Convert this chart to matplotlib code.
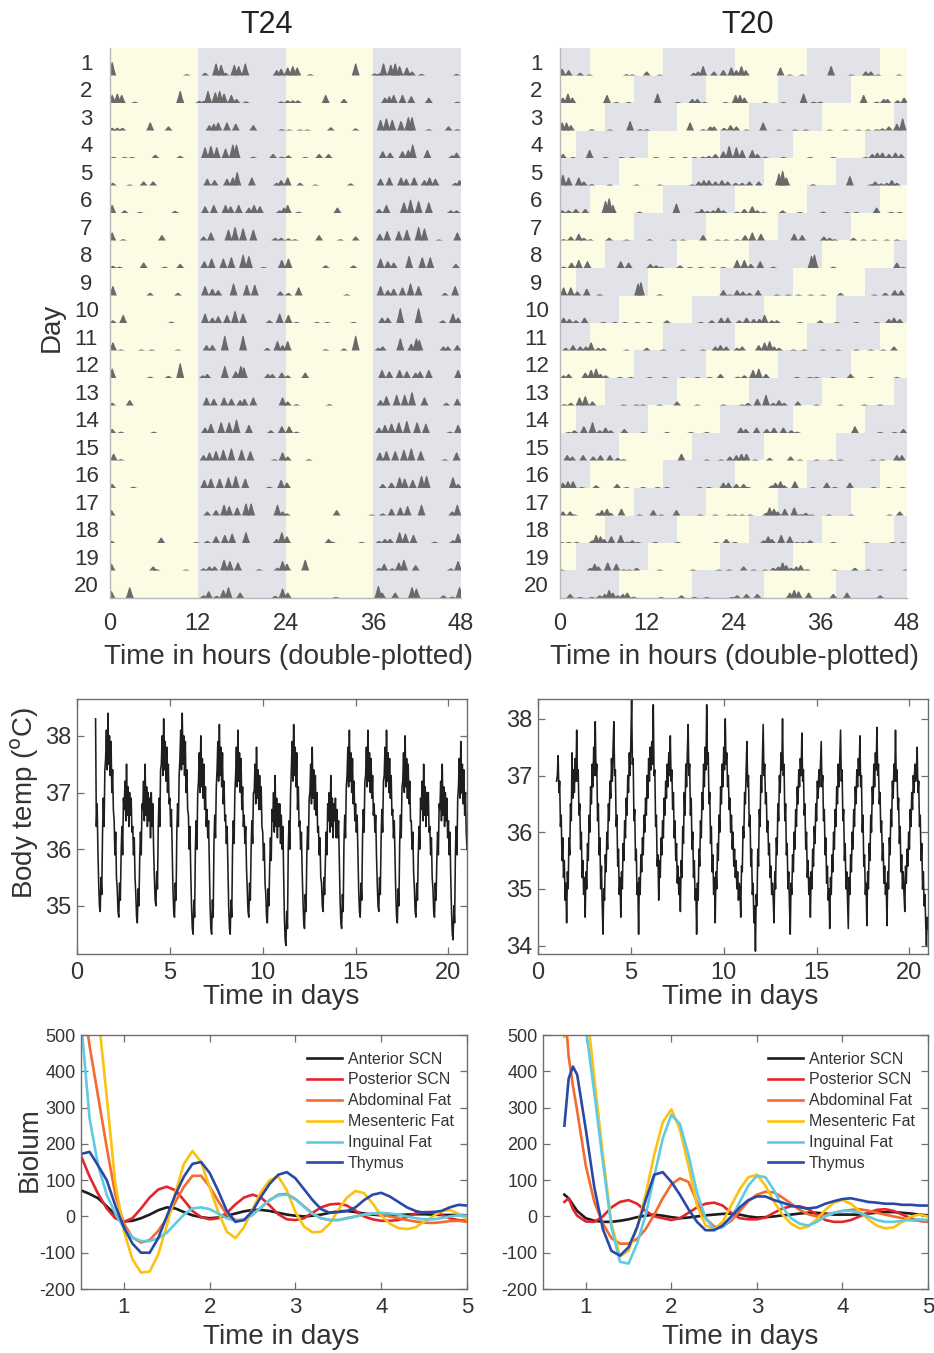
import numpy as np
import matplotlib
matplotlib.use('Agg')
import matplotlib.pyplot as plt

plt.rcParams['font.family'] = ['Liberation Sans', 'DejaVu Sans']
plt.rcParams['axes.unicode_minus'] = False

# ---------------- DATA ----------------
DAY_LABELS = [str(i) for i in range(1, 21)]
HOUR_TICKS = [0, 12, 24, 36, 48]

# light schedules: (period h, light duration h, first light onset h)
SCHED_T24 = (24.0, 12.0, 0.0)
SCHED_T20 = (20.0, 10.0, 4.2)

# activity bouts per day: (hour, height as fraction of row)
ACT_T24 = [
    [(0.3,.5),(10.5,.05),(13.0,.1),(14.5,.45),(15.2,.4),(15.8,.1),(17.0,.4),(17.6,.35),(18.5,.45),(22.8,.2),(23.4,.25)],
    [(0.3,.3),(1.0,.35),(1.6,.3),(3.4,.05),(9.6,.45),(12.2,.08),(12.8,.08),(13.4,.45),(14.4,.4),(15.0,.45),(15.6,.35),(16.6,.3),(17.3,.15),(18.6,.06),(23.4,.06)],
    [(0.3,.1),(1.0,.1),(1.7,.1),(5.5,.3),(8.0,.15),(13.6,.2),(14.2,.25),(14.8,.3),(16.0,.3),(17.2,.25),(19.6,.2),(23.5,.05)],
    [(0.5,.04),(2.0,.04),(3.0,.04),(6.2,.12),(9.6,.08),(13.0,.4),(13.8,.45),(14.6,.4),(15.8,.35),(16.8,.5),(17.3,.5),(19.6,.05),(22.3,.15),(23.5,.05)],
    [(0.4,.1),(2.7,.04),(4.6,.15),(5.9,.15),(13.3,.25),(14.3,.2),(16.0,.25),(16.8,.3),(17.4,.5),(19.4,.3),(22.8,.1),(23.4,.2)],
    [(0.3,.3),(2.0,.1),(4.1,.04),(8.9,.08),(13.0,.25),(14.2,.3),(15.8,.3),(16.5,.25),(17.6,.3),(19.0,.2),(19.7,.3),(20.5,.25),(23.2,.1),(23.8,.2)],
    [(0.3,.3),(1.8,.05),(7.1,.2),(12.8,.15),(13.8,.3),(16.2,.4),(17.1,.5),(18.2,.45),(19.6,.4),(22.6,.1),(23.4,.1)],
    [(0.4,.08),(1.3,.05),(4.6,.2),(7.5,.05),(9.6,.15),(12.9,.25),(13.9,.35),(15.5,.35),(16.6,.4),(18.2,.5),(19.0,.45),(21.0,.04),(23.5,.3)],
    [(0.4,.35),(5.5,.1),(9.3,.1),(13.0,.35),(14.0,.25),(14.8,.2),(16.9,.45),(18.7,.4),(19.8,.4),(23.3,.15)],
    [(0.4,.1),(1.8,.3),(8.4,.05),(13.0,.35),(14.0,.2),(14.8,.25),(16.0,.3),(17.1,.45),(18.2,.35),(21.8,.1),(23.2,.35)],
    [(0.4,.3),(1.5,.04),(4.3,.04),(5.7,.04),(9.3,.04),(13.2,.2),(14.0,.2),(15.7,.55),(18.2,.55),(21.5,.1),(22.9,.35),(23.6,.2)],
    [(0.3,.35),(5.5,.05),(8.0,.08),(9.6,.55),(12.7,.1),(13.3,.15),(15.7,.45),(17.2,.25),(17.9,.45),(18.3,.4),(21.6,.15),(22.2,.15),(23.5,.2)],
    [(0.3,.1),(2.7,.2),(13.2,.3),(14.2,.25),(15.6,.3),(16.6,.25),(17.8,.2),(18.4,.25),(19.6,.3),(23.6,.3)],
    [(0.3,.15),(1.5,.05),(6.0,.05),(13.0,.2),(13.8,.35),(15.2,.4),(16.3,.4),(17.3,.5),(19.0,.3),(22.0,.1),(23.5,.25)],
    [(0.5,.25),(1.5,.05),(12.8,.2),(13.6,.3),(14.5,.35),(15.5,.4),(16.6,.45),(18.0,.4),(19.2,.35),(22.5,.05),(23.6,.3)],
    [(0.3,.15),(3.2,.05),(12.9,.3),(13.8,.35),(15.0,.35),(16.2,.4),(17.2,.45),(18.5,.35),(21.8,.05),(23.4,.3)],
    [(0.2,.2),(13.3,.15),(14.5,.2),(15.6,.4),(16.3,.35),(17.4,.3),(18.6,.45),(19.3,.45),(22.9,.4),(23.6,.15)],
    [(0.2,.08),(7.0,.2),(11.8,.04),(13.3,.08),(14.5,.25),(15.7,.3),(16.7,.35),(18.6,.4),(22.8,.15),(23.5,.4)],
    [(0.2,.25),(5.9,.15),(6.4,.05),(10.4,.04),(12.8,.08),(13.6,.15),(14.3,.15),(15.6,.4),(16.4,.35),(17.5,.3),(20.4,.05),(22.9,.1),(23.6,.35)],
    [(0.2,.25),(2.7,.4),(12.8,.1),(13.5,.25),(14.6,.08),(15.5,.3),(16.2,.4),(17.8,.2),(22.6,.08),(23.6,.35)],
    [(0.3,.2),(6.9,.04),(12.7,.45),(13.2,.2),(15.0,.2),(17.3,.4),(17.9,.35),(21.6,.1),(22.8,.05),(23.8,.4)],
]

ACT_T20 = [
    [(0.3,.25),(1.2,.2),(2.8,.1),(4.1,.04),(9.2,.05),(10.0,.04),(12.0,.15),(13.8,.04),(18.5,.1),(19.1,.15),(19.8,.35),(21.3,.15),(22.6,.2),(23.7,.3)],
    [(0.4,.2),(1.1,.35),(1.7,.2),(6.5,.3),(7.8,.04),(9.5,.04),(13.5,.35),(16.3,.04),(18.3,.15),(19.0,.15),(20.0,.04),(22.9,.04)],
    [(0.3,.3),(0.9,.3),(1.5,.2),(4.4,.05),(6.9,.04),(9.7,.35),(11.1,.05),(12.0,.05),(18.0,.3),(19.8,.05),(20.8,.15),(21.3,.15),(22.7,.1),(23.6,.2)],
    [(0.4,.15),(1.8,.04),(4.1,.3),(6.3,.04),(8.5,.04),(10.0,.04),(13.3,.04),(15.5,.04),(17.3,.04),(18.6,.04),(19.8,.05),(20.6,.08),(21.5,.15),(22.6,.25),(23.4,.45)],
    [(0.4,.4),(1.2,.3),(2.6,.3),(3.3,.15),(4.4,.05),(6.9,.04),(10.6,.04),(13.8,.04),(18.3,.04),(19.2,.15),(19.9,.2),(20.6,.2),(21.5,.15),(22.4,.2),(23.2,.15)],
    [(0.3,.1),(1.2,.1),(2.2,.15),(3.5,.15),(6.3,.45),(6.8,.55),(7.3,.3),(11.0,.05),(16.1,.35),(19.0,.05),(19.6,.15),(20.4,.08),(21.2,.1),(21.9,.2),(22.6,.1)],
    [(0.5,.05),(1.5,.15),(2.6,.25),(3.3,.1),(4.2,.05),(6.8,.1),(9.2,.04),(12.4,.05),(15.7,.04),(17.0,.04),(19.8,.2),(21.8,.04),(23.0,.04)],
    [(0.5,.05),(1.6,.2),(2.6,.3),(3.8,.25),(8.4,.25),(9.5,.2),(12.5,.15),(13.3,.1),(14.0,.05),(16.6,.1),(18.0,.04),(19.5,.04),(21.2,.04),(22.6,.04)],
    [(0.5,.3),(1.5,.3),(2.4,.15),(3.7,.25),(5.5,.05),(10.8,.45),(11.2,.5),(13.8,.05),(22.6,.2),(23.5,.04)],
    [(0.5,.2),(1.3,.15),(2.2,.1),(3.4,.2),(6.0,.04),(7.6,.04),(9.0,.04),(10.7,.04),(12.4,.04),(14.8,.1),(19.5,.04),(21.0,.1),(22.3,.2),(23.2,.2)],
    [(0.8,.1),(1.8,.2),(2.8,.15),(3.6,.15),(4.3,.3),(5.3,.1),(6.0,.1),(9.2,.04),(12.0,.1),(14.3,.04),(17.0,.04),(19.8,.04),(21.5,.15),(22.2,.2),(23.0,.15)],
    [(0.5,.1),(1.2,.15),(3.5,.2),(4.3,.3),(5.0,.35),(5.6,.15),(6.3,.1),(8.3,.04),(9.8,.04),(12.4,.04),(14.5,.04),(17.0,.04),(19.0,.04),(20.7,.04),(22.2,.15)],
    [(0.6,.05),(1.5,.1),(2.7,.3),(3.5,.35),(4.5,.15),(8.8,.04),(10.6,.04),(11.5,.04),(13.8,.04),(16.2,.15),(19.0,.04),(22.6,.04)],
    [(1.2,.04),(2.0,.1),(3.3,.25),(4.5,.4),(5.5,.1),(6.3,.2),(7.0,.1),(8.9,.15),(11.5,.04),(14.8,.04),(18.1,.04),(20.3,.04)],
    [(1.0,.2),(1.7,.15),(3.2,.2),(4.6,.15),(5.6,.2),(6.9,.2),(8.0,.1),(8.8,.05),(16.8,.25),(20.3,.04),(22.3,.04),(23.5,.15)],
    [(0.4,.2),(1.1,.25),(1.8,.25),(3.0,.04),(5.0,.1),(7.9,.15),(9.2,.04),(11.5,.04),(13.5,.04),(14.8,.04),(19.3,.04),(20.6,.04),(22.6,.2),(23.3,.2)],
    [(0.4,.15),(1.4,.15),(2.0,.04),(5.3,.1),(5.8,.2),(6.5,.25),(7.0,.1),(8.5,.25),(11.0,.04),(12.9,.2),(14.0,.04),(16.1,.2),(19.4,.04),(21.5,.04),(23.4,.04)],
    [(0.2,.04),(1.2,.04),(2.3,.04),(4.5,.1),(5.0,.3),(5.6,.25),(6.1,.15),(7.1,.25),(8.4,.3),(9.3,.05),(10.0,.1),(10.8,.04),(13.2,.04),(16.3,.04),(21.6,.04),(23.0,.15)],
    [(0.2,.04),(4.2,.1),(4.8,.25),(5.3,.15),(6.6,.3),(7.8,.25),(8.8,.04),(9.6,.04),(10.6,.1),(13.8,.04),(18.4,.04),(22.0,.04),(23.4,.04)],
    [(1.4,.15),(2.8,.04),(4.4,.04),(5.5,.1),(6.2,.15),(6.8,.3),(7.3,.2),(8.0,.1),(8.7,.15),(9.3,.2),(10.2,.05),(14.0,.04),(16.8,.1),(18.6,.04),(20.3,.04),(23.8,.04)],
    [(0.5,.1),(1.8,.15),(3.3,.15),(7.8,.2),(8.4,.3),(9.0,.25),(10.4,.2),(13.8,.15),(15.7,.2),(20.3,.1)],
]

# body temperature (deg C), hourly samples starting at day 1.0
TEMP_T24_DAYS = [
    [38.3, 36.4, 36.8, 36.0, 35.4, 35.0, 34.9, 35.5, 35.2, 36.3, 36.9, 36.4, 37.4, 37.6, 38.1, 37.4, 38.4, 37.5, 38.0, 37.3, 37.9, 37.0, 37.4, 36.7],
    [36.5, 35.9, 36.3, 35.5, 35.3, 34.9, 34.8, 35.4, 35.1, 35.9, 36.4, 35.9, 36.9, 36.7, 37.2, 36.5, 37.5, 36.6, 37.1, 36.4, 37.0, 36.6, 36.9, 36.3],
    [36.4, 35.9, 36.2, 35.5, 35.2, 34.8, 34.7, 35.3, 35.0, 35.8, 36.3, 35.9, 36.8, 36.7, 37.2, 36.5, 37.5, 36.6, 37.1, 36.4, 37.0, 36.5, 36.9, 36.2],
    [37.0, 36.4, 36.8, 36.0, 35.5, 35.1, 35.0, 35.6, 35.3, 36.4, 36.9, 36.4, 37.4, 37.5, 38.0, 37.3, 38.3, 37.4, 37.9, 37.2, 37.8, 37.0, 37.5, 36.8],
    [36.9, 36.4, 36.7, 36.0, 35.3, 34.9, 34.8, 35.4, 35.1, 36.3, 36.8, 36.4, 37.3, 37.6, 38.1, 37.4, 38.4, 37.5, 38.0, 37.3, 37.9, 37.0, 37.4, 36.7],
    [36.6, 36.0, 36.4, 35.6, 35.0, 34.6, 34.5, 35.1, 34.8, 36.0, 36.5, 36.0, 37.0, 37.2, 37.7, 37.0, 38.0, 37.1, 37.6, 36.9, 37.5, 36.7, 37.1, 36.4],
    [36.7, 36.2, 36.5, 35.8, 35.0, 34.6, 34.5, 35.1, 34.8, 36.1, 36.6, 36.2, 37.1, 37.4, 37.9, 37.2, 38.2, 37.3, 37.8, 37.1, 37.7, 36.8, 37.2, 36.5],
    [36.6, 36.1, 36.4, 35.7, 35.0, 34.6, 34.5, 35.1, 34.8, 36.0, 36.5, 36.1, 37.0, 37.3, 37.8, 37.1, 38.1, 37.2, 37.7, 37.0, 37.6, 36.7, 37.1, 36.4],
    [36.6, 36.1, 36.4, 35.7, 35.3, 34.9, 34.8, 35.4, 35.1, 36.0, 36.5, 36.1, 37.0, 37.0, 37.5, 36.8, 37.8, 36.9, 37.4, 36.7, 37.3, 36.7, 37.1, 36.4],
    [36.3, 35.8, 36.1, 35.4, 35.2, 34.8, 34.7, 35.3, 35.0, 35.7, 36.2, 35.8, 36.7, 36.5, 37.0, 36.3, 37.3, 36.4, 36.9, 36.2, 36.8, 36.4, 36.8, 36.1],
    [36.6, 36.0, 36.4, 35.6, 34.8, 34.4, 34.3, 34.9, 34.6, 36.0, 36.5, 36.0, 37.0, 37.4, 37.9, 37.2, 38.2, 37.3, 37.8, 37.1, 37.7, 36.7, 37.1, 36.4],
    [36.5, 36.0, 36.3, 35.6, 35.1, 34.7, 34.6, 35.2, 34.9, 35.9, 36.4, 36.0, 36.9, 37.0, 37.5, 36.8, 37.8, 36.9, 37.4, 36.7, 37.3, 36.6, 37.0, 36.3],
    [36.4, 35.9, 36.2, 35.5, 35.4, 35.0, 34.9, 35.5, 35.2, 35.8, 36.3, 35.9, 36.8, 36.5, 37.0, 36.3, 37.3, 36.4, 36.9, 36.2, 36.8, 36.5, 36.9, 36.2],
    [36.7, 36.2, 36.5, 35.8, 35.1, 34.7, 34.6, 35.2, 34.9, 36.1, 36.6, 36.2, 37.1, 37.3, 37.8, 37.1, 38.1, 37.2, 37.7, 37.0, 37.6, 36.8, 37.2, 36.5],
    [36.8, 36.3, 36.6, 35.9, 35.3, 34.9, 34.8, 35.4, 35.1, 36.2, 36.7, 36.3, 37.2, 37.3, 37.8, 37.1, 38.1, 37.2, 37.7, 37.0, 37.6, 36.9, 37.3, 36.6],
    [36.8, 36.3, 36.6, 35.9, 35.4, 35.0, 34.9, 35.5, 35.2, 36.2, 36.7, 36.3, 37.2, 37.3, 37.8, 37.1, 38.1, 37.2, 37.7, 37.0, 37.6, 36.9, 37.3, 36.6],
    [36.7, 36.2, 36.5, 35.8, 35.2, 34.8, 34.7, 35.3, 35.0, 36.1, 36.6, 36.2, 37.1, 37.2, 37.7, 37.0, 38.0, 37.1, 37.6, 36.9, 37.5, 36.8, 37.2, 36.5],
    [36.5, 36.0, 36.3, 35.6, 35.3, 34.9, 34.8, 35.4, 35.1, 35.9, 36.4, 36.0, 36.9, 36.7, 37.2, 36.5, 37.5, 36.6, 37.1, 36.4, 37.0, 36.6, 37.0, 36.3],
    [36.4, 35.9, 36.2, 35.5, 35.3, 34.9, 34.8, 35.4, 35.1, 35.8, 36.3, 35.9, 36.8, 36.7, 37.2, 36.5, 37.5, 36.6, 37.1, 36.4, 37.0, 36.5, 36.9, 36.2],
    [36.5, 35.9, 36.3, 35.5, 34.9, 34.5, 34.4, 35.0, 34.7, 35.9, 36.4, 35.9, 36.9, 37.1, 37.6, 36.9, 37.9, 37.0, 37.5, 36.8, 37.4, 36.6, 37.0, 36.3],
]
TEMP_T24_END = 36.0

TEMP_T20_DAYS = [
    [36.9, 37.0, 37.35, 36.7, 36.9, 36.1, 36.3, 35.5, 35.9, 35.2, 35.5, 34.8, 35.1, 34.4, 35.3, 35.0, 35.9, 35.6, 36.5, 36.2, 37.4, 36.6, 37.1, 36.7],
    [37.3, 36.9, 37.8, 36.9, 37.1, 36.3, 36.5, 35.7, 36.0, 35.2, 35.5, 34.9, 35.2, 34.5, 35.3, 35.0, 35.8, 35.5, 36.3, 36.0, 36.8, 36.5, 37.2, 36.8],
    [37.5, 37.0, 37.95, 37.0, 37.2, 36.2, 36.5, 35.6, 35.9, 35.0, 35.4, 34.7, 34.2, 35.0, 34.8, 35.6, 35.3, 36.0, 35.7, 36.5, 36.2, 36.9, 36.6, 37.3],
    [36.9, 37.5, 37.95, 37.0, 37.1, 36.1, 36.3, 35.4, 35.7, 34.9, 35.2, 34.5, 35.3, 35.0, 35.8, 35.5, 36.2, 35.9, 36.6, 36.3, 37.0, 36.7, 37.4, 37.0],
    [37.6, 38.35, 37.2, 37.3, 36.2, 36.4, 35.5, 35.7, 34.9, 35.1, 34.2, 35.2, 34.9, 35.6, 35.3, 35.9, 35.6, 36.3, 36.0, 36.6, 36.3, 37.0, 36.6, 37.3],
    [36.9, 37.5, 37.1, 37.6, 37.2, 38.25, 37.0, 37.1, 36.1, 36.3, 35.4, 35.6, 34.8, 35.5, 35.2, 35.9, 35.6, 36.2, 35.9, 36.6, 36.3, 36.9, 36.6, 37.2],
    [36.8, 37.4, 37.0, 37.7, 36.9, 37.1, 36.4, 36.7, 35.9, 36.2, 35.5, 35.8, 35.1, 35.4, 34.9, 35.2, 34.6, 35.5, 35.2, 36.1, 35.8, 36.7, 36.3, 37.2],
    [36.8, 37.4, 37.9, 37.0, 37.2, 36.3, 36.6, 35.7, 36.0, 35.2, 35.5, 34.8, 35.0, 34.2, 35.1, 34.8, 35.7, 35.4, 36.2, 35.9, 36.7, 36.4, 37.2, 36.8],
    [37.5, 37.1, 38.25, 37.2, 37.4, 36.5, 36.7, 35.8, 36.1, 35.3, 35.6, 34.9, 35.2, 34.4, 35.3, 35.0, 35.8, 35.5, 36.3, 36.0, 36.8, 36.5, 37.2, 36.8],
    [37.5, 37.1, 38.0, 37.2, 37.4, 36.8, 37.0, 36.4, 36.6, 36.0, 36.3, 35.7, 36.0, 35.4, 35.7, 35.2, 35.5, 35.0, 35.3, 34.8, 35.1, 35.0, 34.5, 35.4],
    [35.3, 36.1, 35.9, 36.7, 36.5, 37.1, 37.6, 36.8, 37.0, 36.1, 36.3, 35.4, 35.7, 34.9, 35.1, 34.4, 34.7, 33.9, 34.9, 34.7, 35.7, 35.4, 36.4, 36.1],
    [37.0, 36.7, 37.3, 37.9, 37.0, 37.2, 36.5, 36.7, 36.0, 36.2, 35.6, 35.8, 35.2, 35.4, 34.9, 35.1, 34.8, 34.4, 35.3, 35.0, 35.9, 35.6, 36.5, 36.2],
    [37.0, 36.7, 37.4, 37.1, 38.0, 37.0, 37.2, 36.2, 36.5, 35.6, 35.8, 35.0, 35.3, 34.7, 34.2, 35.1, 34.9, 35.6, 35.3, 36.0, 35.7, 36.4, 36.1, 36.8],
    [36.5, 37.1, 36.8, 37.3, 37.0, 37.75, 36.9, 37.1, 36.3, 36.5, 35.7, 36.0, 35.2, 35.5, 34.9, 35.2, 34.5, 35.3, 35.0, 35.7, 35.4, 36.1, 35.8, 36.5],
    [36.2, 36.9, 36.6, 37.1, 36.8, 37.2, 37.6, 36.8, 37.0, 36.2, 36.4, 35.6, 35.9, 35.1, 35.4, 34.8, 35.0, 34.3, 35.2, 34.9, 35.6, 35.3, 36.0, 35.7],
    [36.4, 36.1, 36.8, 36.5, 37.2, 36.8, 37.3, 37.8, 36.9, 37.1, 36.2, 36.4, 35.5, 35.8, 35.0, 35.3, 34.8, 34.3, 35.2, 34.9, 35.6, 35.3, 36.0, 35.7],
    [36.4, 36.1, 36.8, 36.5, 37.1, 36.8, 37.3, 37.0, 37.7, 36.8, 37.0, 36.0, 36.3, 35.4, 35.6, 34.9, 35.1, 34.35, 35.3, 35.0, 35.8, 35.5, 36.3, 36.0],
    [36.8, 36.5, 37.2, 36.8, 37.4, 37.1, 37.85, 37.0, 37.2, 36.5, 36.7, 36.0, 36.2, 35.5, 35.8, 35.1, 35.4, 34.9, 35.1, 34.35, 35.3, 35.0, 35.9, 35.6],
    [36.4, 36.1, 36.9, 36.6, 37.2, 36.9, 37.8, 36.9, 37.1, 36.4, 36.6, 35.8, 36.1, 35.3, 35.6, 35.0, 35.3, 34.9, 34.6, 35.4, 35.1, 35.7, 35.4, 36.0],
    [35.7, 36.4, 36.1, 36.7, 36.4, 37.0, 36.7, 37.2, 36.9, 37.1, 37.5, 36.7, 36.9, 36.1, 36.3, 35.5, 35.8, 35.0, 35.3, 34.7, 34.9, 34.4, 34.0, 34.5],
]
TEMP_T20_END = 34.3
TEMP_START_DAY = 1.0
SAMPLES_PER_DAY = 24

# bioluminescence traces
BIO_T24_TIME = [0.5, 0.6, 0.7, 0.8, 0.9, 1.0, 1.1, 1.2, 1.3, 1.4, 1.5, 1.6, 1.7, 1.8, 1.9,
                2.0, 2.1, 2.2, 2.3, 2.4, 2.5, 2.6, 2.7, 2.8, 2.9, 3.0, 3.1, 3.2, 3.3, 3.4,
                3.5, 3.6, 3.7, 3.8, 3.9, 4.0, 4.1, 4.2, 4.3, 4.4, 4.5, 4.6, 4.7, 4.8, 4.9, 5.0]
BIO_T24 = {
    'Anterior SCN':  [72, 62, 50, 28, 5, -14, -12, -5, 5, 17, 25, 22, 12, 3, -2, -5, -3, 2, 8, 14, 18, 18, 15, 10, 5, 2, 0, 2, 5, 10, 14, 15, 12, 8, 5, 3, 3, 4, 5, 6, 6, 5, 4, 4, 4, 3],
    'Posterior SCN': [167, 110, 62, 22, -5, -15, -5, 22, 52, 74, 82, 72, 45, 15, -2, -8, -5, 10, 33, 52, 60, 52, 30, 6, -8, -10, -5, 10, 25, 33, 35, 30, 16, 0, -8, -12, -12, -10, -2, 8, 12, 12, 5, -5, -10, -12],
    'Abdominal Fat': [640, 470, 330, 190, 60, -20, -58, -72, -65, -40, -5, 40, 82, 112, 112, 82, 42, 5, -10, -10, 5, 25, 45, 60, 62, 48, 28, 8, -5, -10, -10, -5, 0, 5, 8, 5, 0, -5, -10, -14, -17, -18, -16, -13, -12, -15],
    'Mesenteric Fat': [1300, 900, 560, 330, 90, -40, -118, -155, -152, -105, -25, 65, 145, 180, 150, 80, 12, -42, -60, -30, 20, 68, 100, 110, 72, 12, -28, -44, -42, -20, 18, 52, 70, 64, 36, 2, -20, -32, -35, -30, -15, 0, 14, 18, 8, -8],
    'Inguinal Fat':  [540, 270, 140, 60, 8, -32, -58, -68, -68, -60, -45, -20, 5, 22, 25, 20, 8, -5, -12, -8, 5, 25, 45, 58, 60, 47, 27, 7, -5, -10, -10, -5, 0, 5, 8, 10, 8, 5, 0, -5, -8, -8, -5, 0, 3, 2],
    'Thymus':        [172, 178, 140, 100, 30, -30, -75, -100, -100, -60, 0, 60, 110, 145, 150, 120, 70, 15, -15, -10, 15, 55, 90, 115, 122, 105, 75, 45, 20, 10, 12, 15, 25, 45, 60, 65, 55, 40, 25, 15, 10, 12, 15, 25, 32, 30],
}
BIO_T20_TIME = [0.75, 0.8, 0.85, 0.9, 1.0, 1.1, 1.2, 1.3, 1.4, 1.5, 1.6, 1.7, 1.8, 1.9,
                2.0, 2.1, 2.2, 2.3, 2.4, 2.5, 2.6, 2.7, 2.8, 2.9, 3.0, 3.1, 3.2, 3.3, 3.4,
                3.5, 3.6, 3.7, 3.8, 3.9, 4.0, 4.1, 4.2, 4.3, 4.4, 4.5, 4.6, 4.7, 4.8, 4.9, 5.0]
BIO_T20 = {
    'Anterior SCN':  [60, 50, 32, 15, -5, -12, -15, -15, -12, -8, -2, 2, 5, 2, -2, -5, -3, 0, 3, 5, 7, 8, 5, 0, -3, -2, 0, 3, 5, 8, 10, 10, 8, 5, 5, 5, 5, 8, 10, 12, 12, 10, 8, 5, 3],
    'Posterior SCN': [40, 50, 20, 2, -14, -15, 0, 25, 40, 45, 35, 15, 0, -5, -10, -5, 10, 25, 35, 38, 30, 10, -5, -8, -8, -3, 10, 22, 28, 28, 20, 5, -10, -15, -15, -10, 0, 10, 18, 20, 15, 5, -5, -12, -15],
    'Abdominal Fat': [600, 440, 360, 290, 140, 40, -20, -60, -75, -75, -62, -35, 5, 50, 88, 105, 95, 40, -5, -28, -28, -12, 15, 42, 60, 68, 66, 52, 35, 18, 6, 0, 4, 10, 15, 18, 20, 16, 10, 5, 0, -5, -10, -12, -15],
    'Mesenteric Fat': [495, 900, 1000, 950, 600, 380, 170, -20, -110, -95, -30, 60, 170, 260, 295, 240, 140, 30, -25, -35, -15, 30, 75, 108, 115, 85, 40, 5, -20, -33, -28, -8, 18, 38, 45, 35, 15, -8, -25, -33, -30, -15, 0, 5, 0],
    'Inguinal Fat':  [1200, 1150, 1050, 900, 520, 340, 150, -30, -125, -130, -75, 5, 110, 215, 280, 255, 170, 65, -5, -35, -30, -5, 40, 85, 112, 108, 72, 25, -5, -20, -25, -15, 0, 10, 15, 15, 10, 0, -10, -15, -15, -12, -10, -8, -10],
    'Thymus':        [250, 380, 413, 390, 240, 80, -35, -95, -108, -85, -30, 45, 115, 122, 95, 60, 20, -15, -38, -38, -25, 0, 25, 45, 55, 55, 45, 38, 30, 25, 22, 25, 35, 42, 48, 50, 45, 40, 38, 35, 35, 32, 32, 30, 30],
}
SERIES_COLORS = {
    'Anterior SCN': '#1c1c1c', 'Posterior SCN': '#e3262b', 'Abdominal Fat': '#f46a30',
    'Mesenteric Fat': '#fcc20f', 'Inguinal Fat': '#5fcbe3', 'Thymus': '#2a48a8',
}

# ---------------- STYLE ----------------
LIGHT_C = '#fcfbe4'
DARK_C = '#e2e3e8'
ACT_C = '#6a6a6a'
TXT_C = '#333333'
SPINE_C = '#6e6e6e'
BOUT_W = 0.55

W, H = 934, 1353
fig = plt.figure(figsize=(W / 100, H / 100), dpi=100)


def add_ax(x0, y0, x1, y1):
    return fig.add_axes([x0 / W, 1 - y1 / H, (x1 - x0) / W, (y1 - y0) / H])


def draw_actogram(ax, days, sched):
    period, light_len, onset = sched
    prof_x = np.array([-1, -0.55, -0.2, 0, 0.2, 0.55, 1]) * BOUT_W
    prof_y = np.array([0, 0.45, 0.9, 1, 0.9, 0.45, 0])
    for r in range(1, 21):
        start = (r - 1) * 24.0
        ax.broken_barh([(0, 48)], (r - 1, 1), facecolors=DARK_C, edgecolor='none',
                       antialiased=False, zorder=0)
        k0 = int(np.floor((start - onset) / period)) - 1
        spans = []
        for k in range(k0, k0 + 6):
            a = onset + k * period - start
            b = a + light_len
            lo, hi = max(a, 0.0), min(b, 48.0)
            if hi > lo:
                spans.append((lo, hi - lo))
        ax.broken_barh(spans, (r - 1, 1), facecolors=LIGHT_C, edgecolor='none',
                       antialiased=False, zorder=0)
        for off, d in ((0, r), (24, r + 1)):
            for h, a in days[d - 1]:
                ax.fill(off + h + prof_x, r - a * prof_y, color=ACT_C, lw=0, zorder=2)
    ax.set_xlim(0, 48)
    ax.set_ylim(20, 0)
    ax.set_xticks(HOUR_TICKS)
    ax.set_yticks(np.arange(1, 21) - 0.5)
    ax.set_yticklabels(DAY_LABELS)
    for lab in ax.get_yticklabels():
        lab.set_ha('center')
    ax.tick_params(axis='x', length=0, pad=11, labelsize=17, labelcolor=TXT_C)
    ax.tick_params(axis='y', length=0, pad=17, labelsize=16, labelcolor=TXT_C)
    for s in ('top', 'right'):
        ax.spines[s].set_visible(False)
    for s in ('left', 'bottom'):
        ax.spines[s].set_color('#b8b8b8')
        ax.spines[s].set_linewidth(1.0)
        ax.spines[s].set_zorder(3)


def box_style(ax, xsize, ysize, ypad, xpad):
    for s in ax.spines.values():
        s.set_color(SPINE_C)
        s.set_linewidth(1.0)
    ax.tick_params(direction='in', top=True, right=True, length=5, width=0.9,
                   color=SPINE_C, labelcolor=TXT_C)
    ax.tick_params(axis='x', labelsize=xsize, pad=xpad)
    ax.tick_params(axis='y', labelsize=ysize, pad=ypad)


# ---------------- ACTOGRAMS ----------------
ax1 = add_ax(110, 48, 461, 598)
draw_actogram(ax1, ACT_T24, SCHED_T24)
ax2 = add_ax(560, 48, 907, 598)
draw_actogram(ax2, ACT_T20, SCHED_T20)

fig.text(267 / W, 1 - 25 / H, 'T24', ha='center', va='center', fontsize=22, color='#222222')
fig.text(748 / W, 1 - 25 / H, 'T20', ha='center', va='center', fontsize=22, color='#222222')
fig.text(288 / W, 1 - 657 / H, 'Time in hours (double-plotted)', ha='center', va='center',
         fontsize=20, color=TXT_C)
fig.text(734 / W, 1 - 657 / H, 'Time in hours (double-plotted)', ha='center', va='center',
         fontsize=20, color=TXT_C)
fig.text(52 / W, 1 - 327 / H, 'Day', ha='center', va='center', rotation=90,
         fontsize=20, color=TXT_C)

# ---------------- BODY TEMPERATURE ----------------
for (x0, x1), days, end, ylim, yt in (((77, 467), TEMP_T24_DAYS, TEMP_T24_END, (34.15, 38.65), [35, 36, 37, 38]),
                                      ((538, 928), TEMP_T20_DAYS, TEMP_T20_END, (33.85, 38.35), [34, 35, 36, 37, 38])):
    ax = add_ax(x0, 699, x1, 954)
    vals = np.concatenate([np.concatenate(days), [end]])
    t = TEMP_START_DAY + np.arange(len(vals)) / SAMPLES_PER_DAY
    ax.plot(t, vals, color='#1e1e1e', lw=1.15)
    ax.set_xlim(0, 21)
    ax.set_ylim(*ylim)
    ax.set_xticks([0, 5, 10, 15, 20])
    ax.set_yticks(yt)
    box_style(ax, 17, 17, 4, 6)

fig.text(25 / W, 1 - 803 / H, r'Body temp ($^{\rm o}$C)', ha='center', va='center',
         rotation=90, fontsize=20, color=TXT_C)
fig.text(281 / W, 1 - 997 / H, 'Time in days', ha='center', va='center', fontsize=20, color=TXT_C)
fig.text(740 / W, 1 - 997 / H, 'Time in days', ha='center', va='center', fontsize=20, color=TXT_C)

# ---------------- BIOLUMINESCENCE ----------------
for (x0, x1), times, data in (((81, 467), BIO_T24_TIME, BIO_T24), ((543, 928), BIO_T20_TIME, BIO_T20)):
    ax = add_ax(x0, 1035, x1, 1289)
    for name, vals in data.items():
        ax.plot(times, vals, color=SERIES_COLORS[name], lw=1.9, label=name)
    ax.set_xlim(0.5, 5)
    ax.set_ylim(-200, 500)
    ax.set_xticks([1, 2, 3, 4, 5])
    ax.set_yticks(np.arange(-200, 501, 100))
    box_style(ax, 16, 13, 4, 6)
    leg = ax.legend(loc='upper left', bbox_to_anchor=(0.585, 0.935), frameon=False,
                    fontsize=11.5, handlelength=2.2, handletextpad=0.35,
                    labelspacing=0.37, borderpad=0, borderaxespad=0)
    for txt in leg.get_texts():
        txt.set_color(TXT_C)

fig.text(30 / W, 1 - 1150 / H, 'Biolum', ha='center', va='center', rotation=90,
         fontsize=20, color=TXT_C)
fig.text(281 / W, 1 - 1337 / H, 'Time in days', ha='center', va='center', fontsize=20, color=TXT_C)
fig.text(740 / W, 1 - 1337 / H, 'Time in days', ha='center', va='center', fontsize=20, color=TXT_C)

fig.savefig('out.png', dpi=100)
